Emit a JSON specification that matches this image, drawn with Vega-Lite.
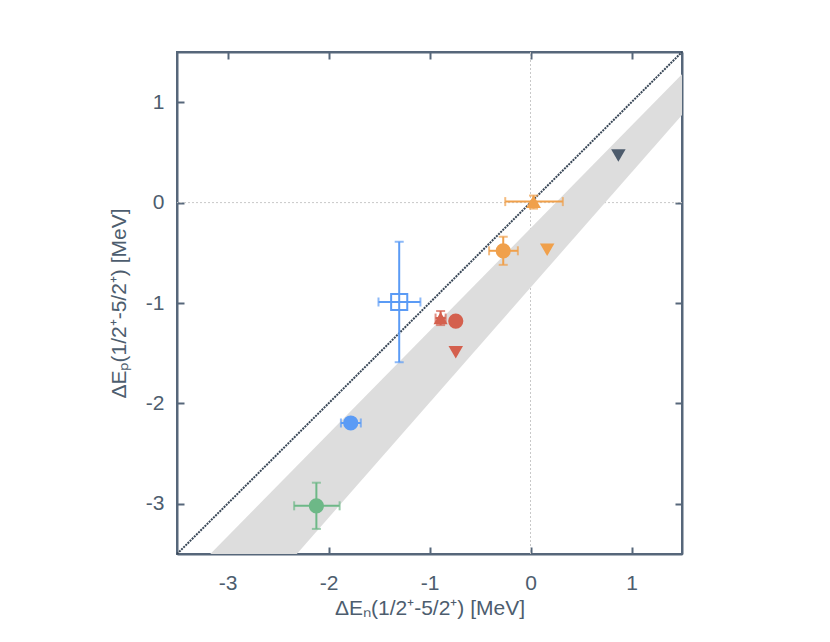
{
  "$schema": "https://vega.github.io/schema/vega-lite/v6.json",
  "autosize": "none",
  "width": 505,
  "height": 502,
  "padding": {"left": 177, "top": 52, "right": 148, "bottom": 88},
  "background": "white",
  "config": {
    "view": {"stroke": "#56677a", "strokeWidth": 2},
    "font": "Liberation Sans",
    "axis": {
      "domainColor": "#56677a", "domainWidth": 2,
      "tickColor": "#56677a", "tickWidth": 2, "tickSize": -7,
      "labelColor": "#4d5d6e", "labelFont": "Liberation Sans", "labelFontSize": 21,
      "titleColor": "#4d5d6e", "titleFont": "Liberation Sans", "titleFontSize": 21, "titleFontWeight": "normal",
      "grid": false
    }
  },
  "datasets": {
    "pts": [
      {"id": "A", "grp": "dark", "sym": "down", "xv": 0.87, "yv": 0.47},
      {"id": "B", "grp": "orange", "sym": "up", "xv": 0.03, "yv": 0.01, "xlo": -0.25, "xhi": 0.32, "ylo": -0.06, "yhi": 0.07},
      {"id": "C", "grp": "orange", "sym": "circle", "xv": -0.27, "yv": -0.48, "xlo": -0.41, "xhi": -0.125, "ylo": -0.62, "yhi": -0.34},
      {"id": "D", "grp": "orange", "sym": "down", "xv": 0.165, "yv": -0.47},
      {"id": "E", "grp": "blue", "sym": "square", "xv": -1.3, "yv": -0.99, "xlo": -1.505, "xhi": -1.09, "ylo": -1.59, "yhi": -0.39},
      {"id": "F", "grp": "red", "sym": "smallup", "xv": -0.89, "yv": -1.15, "xlo": -0.94, "xhi": -0.84, "ylo": -1.22, "yhi": -1.08},
      {"id": "G", "grp": "red", "sym": "circle", "xv": -0.74, "yv": -1.18},
      {"id": "H", "grp": "red", "sym": "down", "xv": -0.74, "yv": -1.49},
      {"id": "I", "grp": "blue", "sym": "circle", "xv": -1.78, "yv": -2.195, "xlo": -1.877, "xhi": -1.68},
      {"id": "J", "grp": "green", "sym": "circle", "xv": -2.12, "yv": -3.02, "xlo": -2.34, "xhi": -1.89, "ylo": -3.25, "yhi": -2.79}
    ]
  },
  "resolve": {"axis": {"x": "independent", "y": "independent"}},
  "layer": [
    {
      "data": {"values": [{"v": 0}]},
      "mark": {"type": "rule", "color": "#c8c8c8", "strokeDash": [2, 2], "strokeWidth": 1},
      "encoding": {
        "x": {"field": "v", "type": "quantitative", "scale": {"domain": [-3.5, 1.5], "nice": false, "zero": false},
              "axis": {"orient": "bottom", "values": [-3, -2, -1, 0, 1], "labelExpr": "'' + datum.value", "labelPadding": 25, "title": "ΔEₙ(1/2⁺-5/2⁺) [MeV]", "titlePadding": 4}}
      }
    },
    {
      "data": {"values": [{"v": 0}]},
      "mark": {"type": "rule", "color": "#c8c8c8", "strokeDash": [2, 2], "strokeWidth": 1},
      "encoding": {
        "y": {"field": "v", "type": "quantitative", "scale": {"domain": [-3.5, 1.5], "nice": false, "zero": false},
              "axis": {"orient": "left", "values": [-3, -2, -1, 0, 1], "labelExpr": "'' + datum.value", "labelPadding": 20, "title": "ΔEₚ(1/2⁺-5/2⁺) [MeV]", "titlePadding": 16}}
      }
    },
    {
      "data": {"values": [{"bx": -3.5, "low": -4.86, "up": -3.837}, {"bx": 1.5, "low": 0.873, "up": 1.278}]},
      "mark": {"type": "area", "color": "#dddddd", "opacity": 1, "clip": true},
      "encoding": {
        "x": {"field": "bx", "type": "quantitative", "axis": {"orient": "top", "values": [-3, -2, -1, 0, 1], "labels": false, "title": null}},
        "y": {"field": "low", "type": "quantitative", "axis": {"orient": "right", "values": [-3, -2, -1, 0, 1], "labels": false, "title": null}},
        "y2": {"field": "up"}
      }
    },
    {
      "data": {"values": [{"d": -3.5}, {"d": 1.5}]},
      "mark": {"type": "line", "color": "#3a4858", "strokeDash": [2, 1], "strokeWidth": 2},
      "encoding": {
        "x": {"field": "d", "type": "quantitative", "axis": null},
        "y": {"field": "d", "type": "quantitative", "axis": null}
      }
    },
    {
      "data": {"name": "pts"},
      "transform": [{"filter": "datum.xlo != null"}],
      "mark": {"type": "errorbar", "ticks": {"size": 9}, "thickness": 2},
      "encoding": {
        "x": {"field": "xlo", "type": "quantitative", "axis": null},
        "x2": {"field": "xhi"},
        "y": {"field": "yv", "type": "quantitative", "axis": null},
        "color": {"field": "grp", "type": "nominal", "legend": null,
                  "scale": {"domain": ["dark", "orange", "red", "blue", "green"], "range": ["#4d5b6c", "#f0a04b", "#d4604e", "#5b9bf5", "#6db887"]}}
      }
    },
    {
      "data": {"name": "pts"},
      "transform": [{"filter": "datum.ylo != null"}],
      "mark": {"type": "errorbar", "ticks": {"size": 9}, "thickness": 2},
      "encoding": {
        "y": {"field": "ylo", "type": "quantitative", "axis": null},
        "y2": {"field": "yhi"},
        "x": {"field": "xv", "type": "quantitative", "axis": null},
        "color": {"field": "grp", "type": "nominal", "legend": null}
      }
    },
    {
      "data": {"name": "pts"},
      "transform": [{"filter": "datum.sym != 'square'"}],
      "mark": {"type": "point", "filled": true, "opacity": 1},
      "encoding": {
        "x": {"field": "xv", "type": "quantitative", "axis": null},
        "y": {"field": "yv", "type": "quantitative", "axis": null},
        "color": {"field": "grp", "type": "nominal", "legend": null},
        "shape": {"field": "sym", "type": "nominal", "legend": null,
                  "scale": {"domain": ["circle", "up", "down", "smallup"], "range": ["circle", "triangle-up", "triangle-down", "triangle-up"]}},
        "size": {"field": "sym", "type": "nominal", "legend": null,
                 "scale": {"domain": ["circle", "up", "down", "smallup"], "range": [230, 200, 220, 80]}}
      }
    },
    {
      "data": {"name": "pts"},
      "transform": [{"filter": "datum.sym == 'square'"}],
      "mark": {"type": "point", "shape": "square", "filled": false, "size": 260, "strokeWidth": 2, "opacity": 1},
      "encoding": {
        "x": {"field": "xv", "type": "quantitative", "axis": null},
        "y": {"field": "yv", "type": "quantitative", "axis": null},
        "color": {"field": "grp", "type": "nominal", "legend": null}
      }
    }
  ]
}
